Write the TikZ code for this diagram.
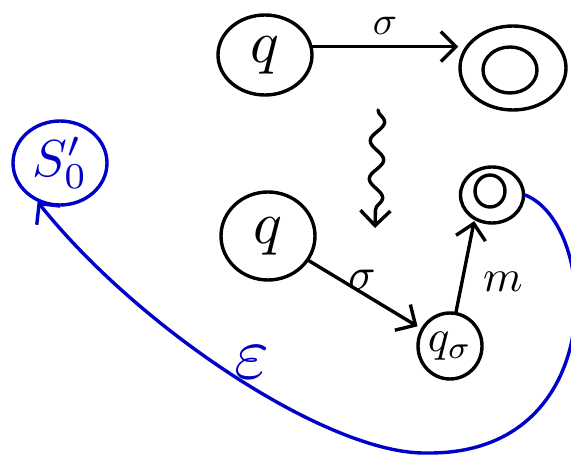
\documentclass[tikz,border=0pt]{standalone}
\usepackage{graphicx}
\usetikzlibrary{arrows.meta,shapes.geometric,decorations.pathmorphing}
\definecolor{pen}{RGB}{0,0,200}
\newcommand{\bigtxt}[2]{\scalebox{#1}{#2}}
\begin{document}
\begin{tikzpicture}[x=1pt,y=-1pt,line width=3.4pt,line cap=round,line join=round,
  st/.style={draw,ellipse,inner sep=0pt},
  lbl/.style={inner sep=0pt},
  arr/.style={-{Straight Barb[length=15pt,width=30pt,line width=3.4pt]}}]
\useasboundingbox (0,0) rectangle (571,457);
% top row
\node[st,minimum width=94pt,minimum height=80pt] (q1) at (265,55) {\bigtxt{6}{$q$}};
\node[st,minimum width=106pt,minimum height=84pt] (a1) at (513,68) {};
\node[st,minimum width=54pt,minimum height=46pt] (a1i) at (510,70) {};
\draw[arr] (q1.10) -- (q1.10 -| a1.west);
\node[lbl] (l1) at (385,26) {\bigtxt{4}{$\sigma$}};
% squiggle
\coordinate (zs) at (378,110);
\coordinate (ze) at (375,228);
\draw[decorate,decoration={snake,amplitude=7pt,segment length=38pt,post length=8pt},arr] (zs) -- (ze);
% bottom part
\node[st,minimum width=94pt,minimum height=88pt] (q2) at (268,236) {\bigtxt{6}{$q$}};
\node[st,minimum width=64pt,minimum height=66pt] (qs) at (450,346) {\bigtxt{4.5}{$q_{\sigma}$}};
\node[st,minimum width=63pt,minimum height=56pt] (a2) at (492,195) {};
\node[st,minimum width=30pt,minimum height=32pt] (a2i) at (490,191) {};
\draw[arr,shorten >=4pt] (q2) -- (qs);
\node[lbl] (l2) at (362,280) {\bigtxt{4.5}{$\sigma$}};
\draw[arr,shorten >=1pt] (qs.80) -- (a2.235);
\node[lbl] (l3) at (503,282) {\bigtxt{4.5}{$m$}};
% blue part
\node[st,draw=pen,text=pen,minimum width=94pt,minimum height=84pt] (s0) at (60,163) {\bigtxt{5.2}{$S'_0$}};
\draw[pen,arr] (a2.east) .. controls (600,225) and (610,455) .. (427,453)
  .. controls (330,455) and (140,330) .. (s0.240);
\node[lbl,text=pen] (l4) at (252,362) {\bigtxt{7.5}{$\varepsilon$}};
\end{tikzpicture}
\end{document}
